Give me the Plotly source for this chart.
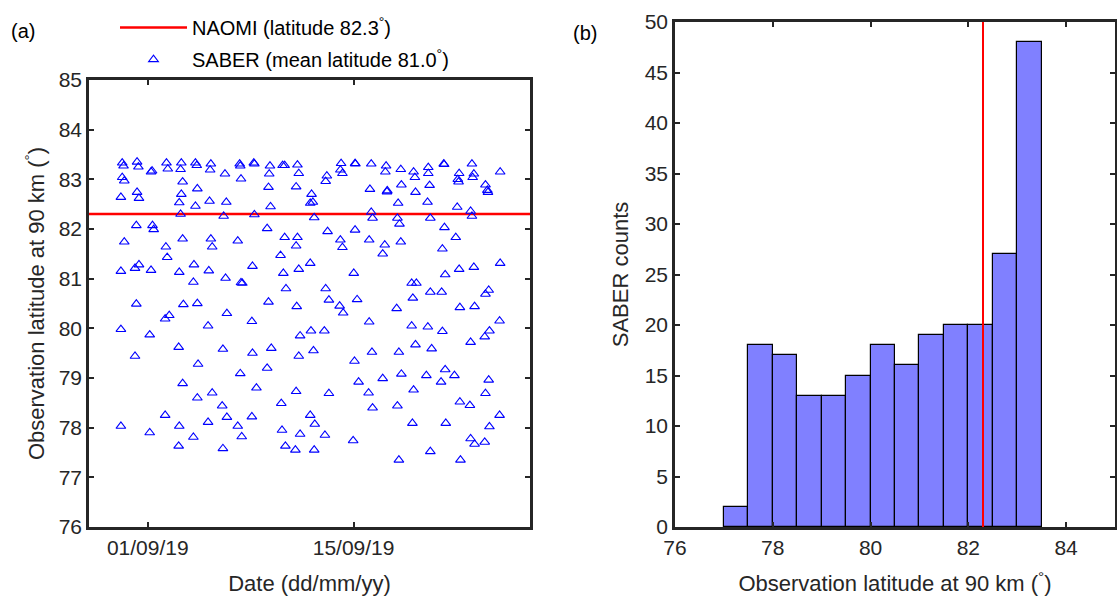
import plotly.graph_objects as go
import pandas as pd

# ---------------- data ----------------
# SABER observation times as days after 2019-09-01 00:00, and latitudes (deg)
saber_day = [
    -1.74, -1.65, -0.73, -0.64, 0.22, 0.29, 1.27, 1.36, 2.28, 2.23, 3.24, 3.33,
    -1.74, -1.60, 2.37, 3.37, -1.83, -0.73, -0.60, 2.28, 2.14, 3.24, 2.23,
    -0.78, 0.32, 0.40, -1.60, 1.23, 2.37, 1.32, -1.83, -0.87, -0.60, 0.22,
    2.14, 3.14, 3.10, -0.78, 2.42, 3.37,
    1.18, 1.46, -1.83, 0.13, 2.10, -0.87, 3.42, 2.37, 3.37, 1.18, -1.83, 0.13,
    2.14, 3.10, 2.10,
    4.29, 4.24, 5.25, 6.25, 6.29, 6.34, 7.21, 7.25, 8.31, 8.26, 9.17, 9.31,
    10.18, 10.27, 8.21, 10.09, 4.20, 5.34, 8.35, 5.16, 7.25, 8.12, 4.29, 4.38,
    6.12, 9.31, 10.18, 10.09, 9.03, 4.15, 5.29, 6.34, 6.43, 7.12, 9.22, 10.27,
    9.40, 8.21, 10.13,
    5.38, 4.10, 7.08, 10.36, 5.11, 7.12, 8.40, 10.27, 6.29, 8.12, 4.38, 7.39,
    10.09, 5.06, 9.08, 4.10, 5.38, 7.08, 6.12, 6.39, 9.13, 10.36, 5.11, 9.36,
    10.04,
    13.15, 13.10, 13.24, 14.10, 14.12, 15.20, 16.21, 16.16, 17.21, 12.18, 12.10,
    15.11, 16.29, 16.27, 17.25, 11.14, 11.05, 11.23, 17.03, 11.32, 15.20, 15.29,
    16.98, 17.12, 12.23, 14.10, 13.10, 13.24, 15.06, 16.12, 15.98, 17.21, 11.05,
    14.01, 12.10, 12.32, 14.24, 13.05, 16.93,
    13.29, 15.06, 11.10, 12.01, 11.27, 14.06, 15.25, 17.08, 14.34, 15.98, 17.25,
    12.32, 15.02, 15.29, 16.98, 11.05, 11.36, 12.05, 13.97, 11.32, 17.08,
    18.08, 18.17, 19.08, 19.08, 20.13, 20.16, 22.05, 21.18, 21.09, 21.14, 22.18,
    22.10, 23.97, 19.17, 18.21, 22.97, 23.10, 23.14, 19.03, 21.05, 21.96, 22.05,
    19.22, 20.18, 20.95, 20.04, 23.97, 21.18, 22.18, 20.23, 17.95, 18.27, 18.03,
    19.22, 19.99, 23.19, 22.97, 21.23, 22.23,
    23.93, 23.24, 22.92, 17.95, 19.05, 20.04, 18.21, 19.31, 21.96, 20.23, 19.95,
    20.86, 18.95, 23.19, 18.08, 22.97, 21.23, 21.91, 23.93, 18.00, 20.27, 23.24,
    21.96, 22.23, 22.92, 19.22, 21.27,
]
saber_lat = [
    83.33, 83.27, 83.35, 83.25, 83.15, 83.17, 83.33, 83.21, 83.33, 83.20, 83.33, 83.28,
    83.04, 82.97, 82.95, 82.81, 82.64, 82.74, 82.62, 82.70, 82.53, 82.46, 82.30,
    82.07, 82.07, 81.99, 81.74, 81.64, 81.80, 81.43, 81.15, 81.21, 81.28, 81.17,
    81.13, 81.28, 80.93, 80.49, 80.48, 80.50,
    80.19, 80.26, 79.98, 79.87, 79.62, 79.44, 79.28, 78.89, 78.60, 78.25, 78.03, 77.90,
    78.03, 77.81, 77.63,
    83.31, 83.19, 83.11, 83.31, 83.27, 83.01, 83.33, 83.31, 83.27, 83.11, 83.28, 83.28,
    83.29, 83.12, 82.84, 82.85, 82.56, 82.54, 82.45, 82.26, 82.29, 82.01, 81.80, 81.64,
    81.76, 81.83, 81.83, 81.66, 81.47, 81.16, 81.01, 80.92, 80.91, 81.25, 81.11, 81.19,
    80.80, 80.53, 80.44,
    80.30, 80.05, 80.14, 79.85, 79.58, 79.50, 79.60, 79.44, 79.09, 79.20, 78.70, 78.80,
    78.73, 78.44, 78.49, 78.11, 78.21, 78.22, 78.03, 77.82, 77.95, 77.87, 77.58, 77.63,
    77.55,
    83.32, 83.19, 83.12, 83.32, 83.31, 83.31, 83.27, 83.15, 83.20, 83.07, 82.96,
    82.80, 82.77, 82.75, 82.89, 82.70, 82.52, 82.54, 82.52, 82.23, 82.34, 82.22,
    82.22, 82.10, 81.95, 81.98, 81.78, 81.63, 81.78, 81.68, 81.50, 81.74, 81.31,
    81.11, 80.80, 80.57, 80.58, 80.45, 80.40,
    80.31, 80.13, 79.95, 79.95, 79.55, 79.34, 79.52, 79.52, 78.92, 78.99, 79.08,
    78.69, 78.70, 78.40, 78.44, 78.25, 78.07, 77.85, 77.74, 77.55, 77.35,
    83.15, 83.04, 83.24, 83.12, 83.31, 83.30, 83.31, 83.12, 83.00, 82.95, 83.11,
    83.04, 83.15, 82.88, 82.74, 82.89, 82.78, 82.74, 82.54, 82.44, 82.36, 82.26,
    82.22, 82.03, 81.83, 81.60, 81.31, 81.19, 81.23, 81.08, 80.91, 80.91, 80.61,
    80.73, 80.73, 80.77, 80.69, 80.42, 80.44,
    80.15, 79.95, 79.83, 80.05, 80.03, 79.94, 79.67, 79.59, 79.72, 79.17, 78.92,
    79.05, 79.05, 78.96, 78.76, 78.69, 78.52, 78.45, 78.25, 78.09, 78.09, 78.02,
    77.78, 77.67, 77.71, 77.52, 77.35,
]
naomi_lat = 82.3

# histogram of SABER latitudes (0.5 deg bins)
hist_bin_left = [77.0, 77.5, 78.0, 78.5, 79.0, 79.5, 80.0, 80.5, 81.0, 81.5, 82.0, 82.5, 83.0]
hist_counts = [2, 18, 17, 13, 13, 15, 18, 16, 19, 20, 20, 27, 48]
hist_bin_width = 0.5

date_origin = "2019-09-01"
date_range = ["2019-08-28", "2019-09-27"]
date_tickvals = ["2019-09-01", "2019-09-15"]
date_ticktext = ["01/09/19", "15/09/19"]
lat_range = [76, 85]
hist_xticks = [76, 78, 80, 82, 84]
count_range = [0, 50]

# ---------------- figure ----------------
saber_time = pd.Timestamp(date_origin) + pd.to_timedelta(saber_day, unit="D")

W, H = 1117, 605
FONT = "Arial, 'Liberation Sans', Helvetica, sans-serif"
AX = "#262626"

fig = go.Figure()

fig.add_trace(go.Scatter(
    x=date_range, y=[naomi_lat, naomi_lat], mode="lines",
    line=dict(color="#ff0000", width=2.5),
    name="NAOMI (latitude 82.3<sup>°</sup>)", legendgroup="a",
    xaxis="x", yaxis="y",
))
fig.add_trace(go.Scatter(
    x=saber_time, y=saber_lat, mode="markers",
    marker=dict(symbol="triangle-up-open", size=8.5, color="#0000ff",
                line=dict(color="#0000ff", width=1.1)),
    name="SABER (mean latitude 81.0<sup>°</sup>)", legendgroup="b",
    xaxis="x", yaxis="y",
))

fig.add_trace(go.Bar(
    x=hist_bin_left, y=hist_counts, width=hist_bin_width, offset=0,
    marker=dict(color="rgb(128,128,255)", line=dict(color="black", width=1.2)),
    showlegend=False, xaxis="x2", yaxis="y2",
))
fig.add_trace(go.Scatter(
    x=[naomi_lat, naomi_lat], y=count_range, mode="lines",
    line=dict(color="#ff0000", width=2), showlegend=False,
    xaxis="x2", yaxis="y2",
))

axis_common = dict(
    showline=True, linewidth=2.5, linecolor=AX, mirror="ticks",
    ticks="inside", ticklen=5, tickwidth=2, tickcolor=AX,
    showgrid=False, zeroline=False, automargin=False,
    tickfont=dict(size=21, color=AX, family=FONT),
)

y_bot = 1 - 527 / H
fig.update_layout(
    width=W, height=H,
    margin=dict(l=0, r=0, t=0, b=0, autoexpand=False),
    paper_bgcolor="white", plot_bgcolor="white",
    font=dict(family=FONT, size=21, color=AX),
    bargap=0,
    showlegend=True,
    legend=dict(x=115 / W, y=1 - 8 / H, xanchor="left", yanchor="top",
                bgcolor="rgba(0,0,0,0)", font=dict(size=20, color="black", family=FONT),
                itemwidth=67, tracegroupgap=3, traceorder="grouped"),
    xaxis=dict(axis_common, type="date", range=date_range, domain=[89 / W, 530 / W],
               anchor="y", tickvals=date_tickvals, ticktext=date_ticktext,
               title=dict(text="Date (dd/mm/yy)", font=dict(size=22, color=AX), standoff=18)),
    yaxis=dict(axis_common, range=lat_range, dtick=1, domain=[y_bot, 1 - 80 / H],
               anchor="x",
               title=dict(text="Observation latitude at 90 km (<sup>°</sup>)",
                          font=dict(size=22, color=AX), standoff=8)),
    xaxis2=dict(axis_common, range=lat_range, tickvals=hist_xticks,
                domain=[675 / W, 1115 / W], anchor="y2",
                title=dict(text="Observation latitude at 90 km (<sup>°</sup>)",
                           font=dict(size=22, color=AX), standoff=18)),
    yaxis2=dict(axis_common, range=count_range, dtick=5, domain=[y_bot, 1 - 22 / H],
                anchor="x2",
                title=dict(text="SABER counts", font=dict(size=22, color=AX), standoff=10)),
    annotations=[
        dict(text="(a)", xref="paper", yref="paper", x=9 / W, y=1 - 31 / H,
             xanchor="left", yanchor="middle", showarrow=False,
             font=dict(size=20, color="black", family=FONT)),
        dict(text="(b)", xref="paper", yref="paper", x=571 / W, y=1 - 33 / H,
             xanchor="left", yanchor="middle", showarrow=False,
             font=dict(size=20, color="black", family=FONT)),
    ],
)

fig.write_html("out.html")
